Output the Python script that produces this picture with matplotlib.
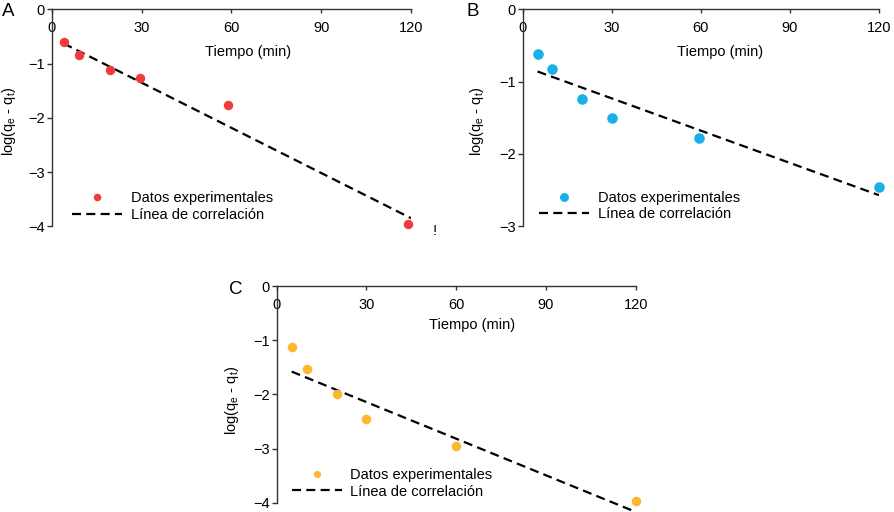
import matplotlib
matplotlib.use('Agg')
import matplotlib.pyplot as plt

plt.rcParams['font.family'] = ['Liberation Sans', 'DejaVu Sans']
plt.rcParams['lines.scale_dashes'] = False

# ---------------- data ----------------
a_time = [4, 9, 19.5, 29.5, 59, 119]
a_exp = [-0.61, -0.84, -1.12, -1.27, -1.77, -3.96]
a_fit_x = [4, 120]
a_fit_y = [-0.63, -3.85]

b_time = [5, 10, 20, 30, 59.5, 120]
b_exp = [-0.62, -0.82, -1.24, -1.50, -1.78, -2.45]
b_fit_x = [5, 120]
b_fit_y = [-0.86, -2.57]

c_time = [5, 10, 20, 30, 60, 120]
c_exp = [-1.13, -1.53, -2.00, -2.46, -2.96, -3.96]
c_fit_x = [5, 120]
c_fit_y = [-1.58, -4.17]

xticks = [0, 30, 60, 90, 120]
a_yticks = [0, -1, -2, -3, -4]
b_yticks = [0, -1, -2, -3]
c_yticks = [0, -1, -2, -3, -4]

xlabel = 'Tiempo (min)'
ylabel = r'log(q$_\mathregular{e}$ - q$_\mathregular{t}$)'
lab_exp = 'Datos experimentales'
lab_fit = 'Línea de correlación'

W, H = 895, 512
fig = plt.figure(figsize=(W / 100, H / 100), dpi=100)

FS = 10.5
SPINE = '#333333'


def px_rect(x0, y0, x1, y1):
    return [x0 / W, 1 - y1 / H, (x1 - x0) / W, (y1 - y0) / H]


def panel(rect, tx, ty, fx, fy, color, ms, lms_scale, ylim, yticks,
          xl_pos, leg_pos, clip_fit=True):
    ax = fig.add_axes(rect)
    ax.plot(tx, ty, 'o', color=color, ms=ms, mec='none', label=lab_exp, clip_on=False, zorder=3)
    ax.plot(fx, fy, color='black', lw=1.6, dashes=(6.5, 3.8), label=lab_fit,
            clip_on=clip_fit, zorder=2)
    ax.set_xlim(0, 120)
    ax.set_ylim(*ylim)
    ax.set_xticks(xticks)
    ax.set_yticks(yticks)
    for s in ['top', 'right']:
        ax.spines[s].set_visible(False)
    ax.spines['bottom'].set_position(('data', 0))
    for s in ['bottom', 'left']:
        ax.spines[s].set_color(SPINE)
        ax.spines[s].set_linewidth(1.0)
    ax.tick_params(axis='x', direction='out', length=3, width=1, pad=5.5,
                   labelsize=FS, color=SPINE)
    ax.tick_params(axis='y', direction='out', length=3.5, width=1, pad=1.5,
                   labelsize=FS, color=SPINE)
    ax.patch.set_alpha(0)
    ax.text(xl_pos[0], xl_pos[1], xlabel, transform=ax.transAxes,
            ha='center', va='center', fontsize=FS)
    ax.legend(loc='center left', bbox_to_anchor=leg_pos, frameon=False,
              borderpad=0, borderaxespad=0, handlelength=3.43,
              handletextpad=0.6, labelspacing=0.17, markerscale=lms_scale,
              fontsize=FS, numpoints=1)
    return ax


axA = panel(px_rect(51.7, 9.3, 411, 226.3), a_time, a_exp, a_fit_x, a_fit_y,
            '#ee3b3b', 6.8, 0.8, (-4, 0), a_yticks, (0.546, 0.805), (0.0577, 0.0917))
axB = panel(px_rect(522.7, 9.3, 879, 226.3), b_time, b_exp, b_fit_x, b_fit_y,
            '#1aafe6', 7.6, 0.85, (-3, 0), b_yticks, (0.554, 0.805), (0.0457, 0.0926))
axC = panel(px_rect(276.7, 286, 635.7, 502.7), c_time, c_exp, c_fit_x, c_fit_y,
            '#fbb731', 6.9, 0.75, (-4, 0), c_yticks, (0.543, 0.82), (0.0418, 0.0896),
            clip_fit=False)

# y labels
for (x, y) in [(8.5, 121.7), (476.7, 121.7), (231.7, 400)]:
    fig.text(x / W, 1 - y / H, ylabel, rotation=90, ha='center', va='center', fontsize=FS)

# panel letters
for (x, y, t) in [(8, 11, 'A'), (473, 11, 'B'), (236, 289, 'C')]:
    fig.text(x / W, 1 - y / H, t, ha='center', va='center', fontsize=13.5)

fig.text(435 / W, 1 - 231 / H, '!', ha='center', va='center', fontsize=11)

fig.savefig('out.png', dpi=100)
